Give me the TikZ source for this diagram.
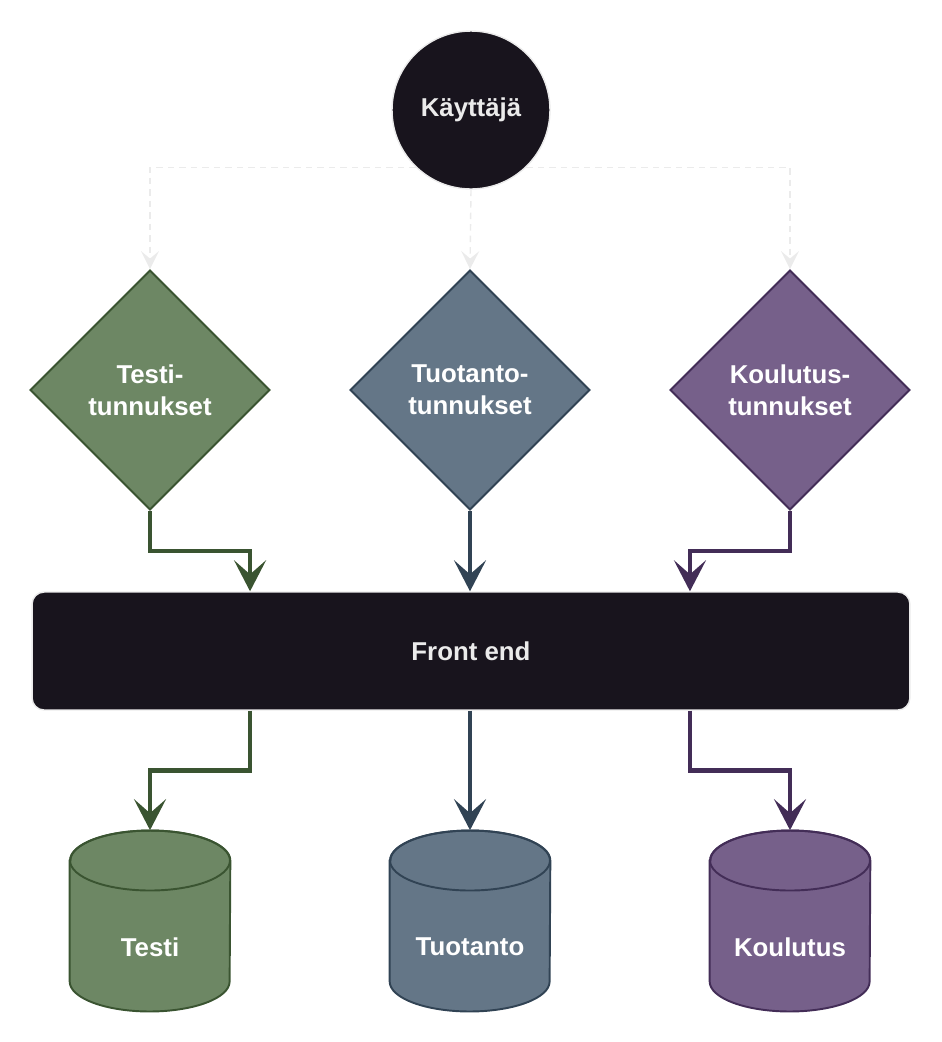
\documentclass[tikz,border=0pt]{standalone}
\usepackage{fontspec}
\setmainfont{Liberation Sans}
\usetikzlibrary{shapes.geometric,arrows.meta,backgrounds}

\definecolor{testfill}{HTML}{6D8764}
\definecolor{testline}{HTML}{3A5431}
\definecolor{prodfill}{HTML}{647687}
\definecolor{prodline}{HTML}{314354}
\definecolor{edufill}{HTML}{76608A}
\definecolor{eduline}{HTML}{432D57}
\definecolor{darkfill}{HTML}{18141D}
\definecolor{lightline}{HTML}{EBEBEB}

\begin{document}
\begin{tikzpicture}[
  x=0.02cm, y=-0.02cm,
  every node/.style={font=\fontsize{14.7}{18.2}\selectfont\bfseries, align=center},
  user/.style={circle, draw=lightline, line width=0.8pt, fill=darkfill, text=lightline, minimum size=3.16cm, inner sep=0pt},
  account/.style={diamond, line width=1.1pt, text=white, minimum width=4.8cm, minimum height=4.8cm, inner sep=0pt},
  frontbox/.style={rectangle, rounded corners=0.24cm, draw=lightline, line width=0.8pt, fill=darkfill, text=lightline, minimum width=17.56cm, minimum height=2.36cm},
  db/.style={rectangle, minimum width=3.2cm, minimum height=3.62cm, inner sep=0pt},
  dblabel/.style={text=white, yshift=-0.52cm},
  choice/.style={-{Stealth[length=0.36cm, width=0.36cm, inset=0.15cm]}, lightline, line width=0.8pt, dash pattern=on 0.13cm off 0.1cm},
  flow/.style={-{Stealth[length=0.62cm, width=0.64cm, inset=0.28cm]}, line width=2.7pt}
]
\useasboundingbox (0,0) rectangle (942,1042);

% User
\node[user] (kayttaja) at (471,110) {Käyttäjä};

% Account types
\node[account, fill=testfill, draw=testline] (testitunn) at (150,390) {Testi-\\tunnukset};
\node[account, fill=prodfill, draw=prodline] (tuotantotunn) at (470,390) {Tuotanto-\\tunnukset};
\node[account, fill=edufill, draw=eduline] (koulutustunn) at (790,390) {Koulutus-\\tunnukset};

% Front end
\node[frontbox] (frontend) at (471,651) {Front end};

% Databases
\node[db, label={[dblabel]center:Testi}] (testidb) at (150,921) {};
\node[db, label={[dblabel]center:Tuotanto}] (tuotantodb) at (470,921) {};
\node[db, label={[dblabel]center:Koulutus}] (koulutusdb) at (790,921) {};

\begin{scope}[on background layer]
\foreach \db/\c in {testidb/test, tuotantodb/prod, koulutusdb/edu} {
  \draw[fill=\c fill, draw=\c line, line width=1.1pt]
    ([yshift=1.21cm]\db.west) -- ([yshift=-1.21cm]\db.west)
    arc[start angle=180, end angle=360, x radius=1.6cm, y radius=0.6cm]
    -- ([yshift=1.21cm]\db.east)
    arc[start angle=0, end angle=180, x radius=1.6cm, y radius=0.6cm] -- cycle;
  \draw[draw=\c line, line width=1.1pt] ([yshift=1.21cm]\db.center) ellipse[x radius=1.6cm, y radius=0.6cm];
}
\end{scope}

% User chooses an account
\draw[choice] (kayttaja.-134) -| (testitunn.north);
\draw[choice] (kayttaja.south) -- (tuotantotunn.north);
\draw[choice] (kayttaja.-46) -| (koulutustunn.north);

% Accounts into front end
\draw[flow, testline] (testitunn.south) -- ++(0,40) -| ([xshift=-4.42cm]frontend.north);
\draw[flow, prodline] (tuotantotunn.south) -- ([xshift=-0.02cm]frontend.north);
\draw[flow, eduline] (koulutustunn.south) -- ++(0,40) -| ([xshift=4.38cm]frontend.north);

% Front end to databases
\draw[flow, testline] ([xshift=-4.42cm]frontend.south) -- ++(0,60) -| (testidb.north);
\draw[flow, prodline] ([xshift=-0.02cm]frontend.south) -- (tuotantodb.north);
\draw[flow, eduline] ([xshift=4.38cm]frontend.south) -- ++(0,60) -| (koulutusdb.north);

\end{tikzpicture}
\end{document}
